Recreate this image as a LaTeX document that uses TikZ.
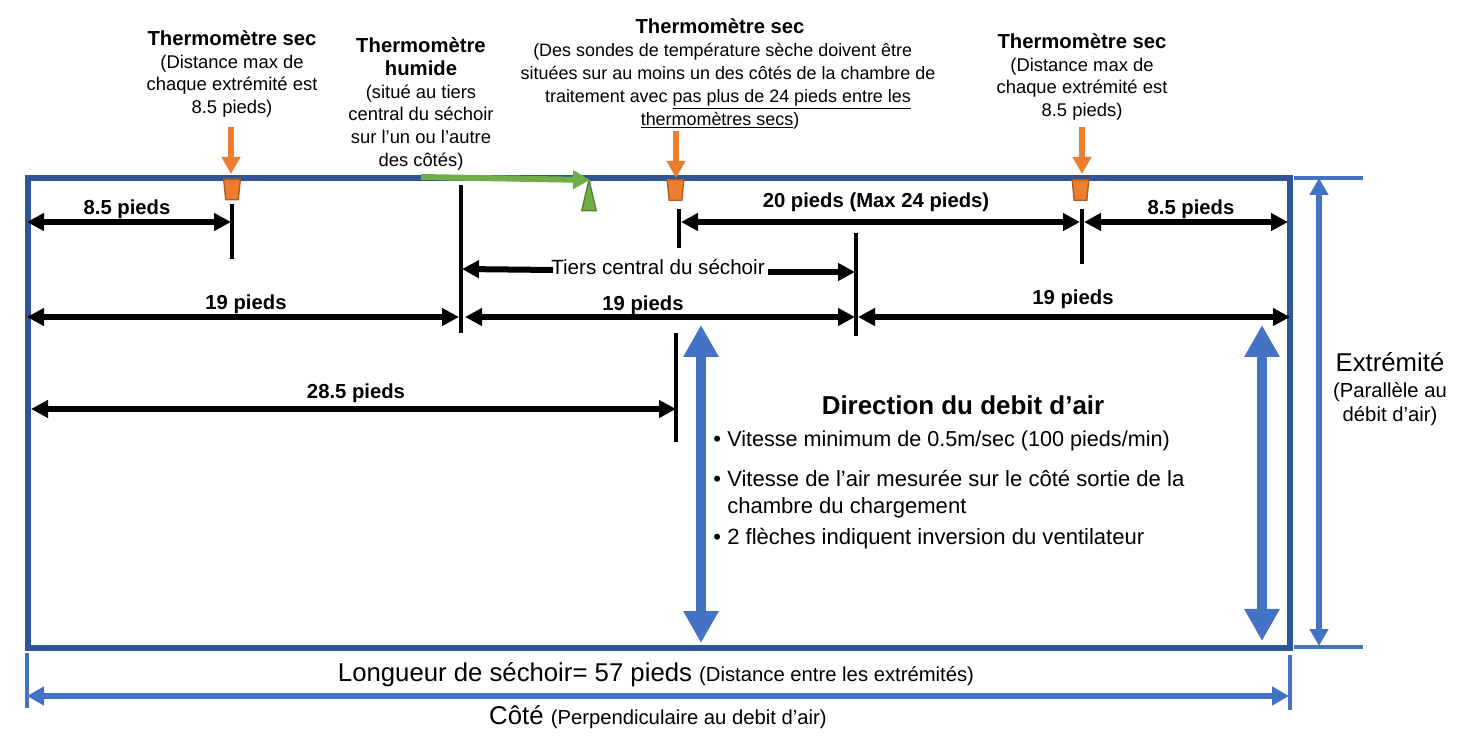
\documentclass[tikz,border=0pt]{standalone}
\usepackage{fontspec}
\setmainfont{Liberation Sans}
\usetikzlibrary{arrows.meta,shapes.geometric}
\definecolor{frameblue}{HTML}{2F5597}
\definecolor{airblue}{HTML}{4472C4}
\definecolor{orangeth}{HTML}{ED7D31}
\definecolor{orangeedge}{HTML}{AE5A21}
\definecolor{greenth}{HTML}{70AD47}
\definecolor{greenedge}{HTML}{548235}
\newcommand{\headfont}{\fontsize{15.2}{17.2}\selectfont}
\newcommand{\notefont}{\fontsize{13.8}{17.2}\selectfont}
\newcommand{\widefont}{\fontsize{13.45}{17.2}\selectfont}
\newcommand{\seed}{\phantom{\rule{1pt}{1pt}}}
\tikzset{
  x=0.75pt,y=-0.75pt,
  dim/.style={line width=4.5pt,black,{Triangle[length=12.75pt,width=12.75pt]}-{Triangle[length=12.75pt,width=12.75pt]}},
  dimr/.style={line width=4.5pt,black,-{Triangle[length=12.75pt,width=12.75pt]}},
  tick/.style={line width=3pt,black},
  pointer/.style={line width=4.5pt,orangeth,-{Triangle[length=12.75pt,width=13.5pt]}},
  hygro/.style={line width=4.5pt,greenth,-{Triangle[length=12.75pt,width=13.5pt]}},
  airflow/.style={line width=8pt,airblue,{Triangle[length=24pt,width=25pt]}-{Triangle[length=24pt,width=25pt]}},
  span/.style={line width=4.5pt,airblue,{Triangle[length=12.75pt,width=13.5pt]}-{Triangle[length=12.75pt,width=13.5pt]}},
  endline/.style={line width=3pt,airblue},
  dry/.style={trapezium,shape border rotate=180,trapezium angle=81,trapezium stretches=true,draw=orangeedge,fill=orangeth,line width=1pt,minimum width=12.5pt,minimum height=15.5pt,inner sep=0pt},
  wet/.style={isosceles triangle,isosceles triangle stretches=true,shape border rotate=90,draw=greenedge,fill=greenth,line width=1pt,minimum width=11pt,minimum height=23pt,inner sep=0pt},
  note/.style={align=center,font=\notefont,inner sep=0pt},
  dimlabel/.style={font=\headfont\bfseries,inner sep=0pt,yshift=-1.5pt},
  big/.style={font=\fontsize{19.3}{22}\selectfont,inner sep=0pt},
  bodytext/.style={align=left,anchor=west,font=\fontsize{16.55}{20.3}\selectfont,inner sep=0pt},
}
\begin{document}
\begin{tikzpicture}
\useasboundingbox (0,0) rectangle (1472,748);

% coordinates
\coordinate (t1a) at (232,204); \coordinate (t1b) at (232,259);
\coordinate (t2a) at (461,185); \coordinate (t2b) at (461,333);
\coordinate (t3a) at (679,209); \coordinate (t3b) at (679,248);
\coordinate (t4a) at (856,233); \coordinate (t4b) at (856,336);
\coordinate (t5a) at (1082,209); \coordinate (t5b) at (1082,264);
\coordinate (t6a) at (676,333); \coordinate (t6b) at (676,442);

% frame
\draw[frameblue,line width=4.5pt] (28,178) rectangle (1290,648);

% thermometers
\node[dry] (dry1) at (232,189.5) {\seed};
\node[dry] (dry2) at (675.5,190) {\seed};
\node[dry] (dry3) at (1080.5,190) {\seed};
\node[wet] (wet1) at (589,205) {\seed};

% pointers
\coordinate (p1) at (231,127); \coordinate (p1e) at (231,174);
\coordinate (p2) at (676,131); \coordinate (p2e) at (676,178);
\coordinate (p3) at (1082,127); \coordinate (p3e) at (1082,174);
\draw[pointer] (p1) -- (p1e);
\draw[pointer] (p2) -- (p2e);
\draw[pointer] (p3) -- (p3e);
\coordinate (g0) at (421,177); \coordinate (g1) at (590,180);
\draw[hygro] (g0) -- (g1);

% ticks
\draw[tick] (t1a) -- (t1b);
\draw[tick] (t2a) -- (t2b);
\draw[tick] (t3a) -- (t3b);
\draw[tick] (t4a) -- (t4b);
\draw[tick] (t5a) -- (t5b);
\draw[tick] (t6a) -- (t6b);

% dimension arrows
\coordinate (a1) at (27,222); \coordinate (a2) at (231,222);
\coordinate (a3) at (681,222); \coordinate (a4) at (1080,222);
\coordinate (a5) at (1084,222); \coordinate (a6) at (1288,222);
\coordinate (b1) at (27,317); \coordinate (b2) at (459,317);
\coordinate (b3) at (465,317); \coordinate (b4) at (855,317);
\coordinate (b5) at (858,317); \coordinate (b6) at (1290,317);
\coordinate (c1) at (31,409); \coordinate (c2) at (676,409);
\draw[dim] (a1) -- (a2);
\draw[dim] (a3) -- (a4);
\draw[dim] (a5) -- (a6);
\draw[dim] (b1) -- (b2);
\draw[dim] (b3) -- (b4);
\draw[dim] (b5) -- (b6);
\draw[dim] (c1) -- (c2);

% tiers central
\node[font=\fontsize{15.45}{17}\selectfont,inner sep=0pt] (tiers) at (658,267) {Tiers central du séchoir};
\coordinate (ti1) at (553,270); \coordinate (ti2) at (462,269);
\coordinate (ti3) at (768,272); \coordinate (ti4) at (855,272);
\draw[dimr] (ti1) -- (ti2);
\draw[dimr] (ti3) -- (ti4);

% airflow arrows
\coordinate (f1) at (701,325); \coordinate (f2) at (701,643);
\coordinate (f3) at (1262,325); \coordinate (f4) at (1262,641);
\draw[airflow] (f1) -- (f2);
\draw[airflow] (f3) -- (f4);

% end / side dimensions
\coordinate (e1) at (1294,178); \coordinate (e2) at (1363,178);
\coordinate (e3) at (1294,647); \coordinate (e4) at (1363,647);
\coordinate (e5) at (1319,178); \coordinate (e6) at (1319,646);
\draw[endline] (e1) -- (e2);
\draw[endline] (e3) -- (e4);
\draw[span] (e5) -- (e6);
\coordinate (s1) at (26.5,653); \coordinate (s2) at (26.5,708);
\coordinate (s3) at (1290,655); \coordinate (s4) at (1290,710);
\coordinate (s5) at (27,696); \coordinate (s6) at (1289,696);
\draw[endline] (s1) -- (s2);
\draw[endline] (s3) -- (s4);
\draw[span] (s5) -- (s6);

% thermometer notes
\node[note] (n1) at (232,74) {{\headfont\bfseries Thermomètre sec}\\(Distance max de\\chaque extrémité est\\8.5 pieds)};
\node[note] (n2) at (421,104) {{\headfont\bfseries Thermomètre}\\{\headfont\bfseries humide}\\(situé au tiers\\central du séchoir\\sur l’un ou l’autre\\des côtés)};
\node[note,font=\widefont] (n3) at (728,74) {\hspace*{-12pt}{\headfont\bfseries Thermomètre sec}\\\hspace*{-8pt}(Des sondes de température sèche doivent être\\situées sur au moins un des côtés de la chambre de\\traitement avec \underline{pas plus de 24 pieds entre les}\\\hspace*{-12pt}\underline{thermomètres secs})};
\node[note] (n4) at (1082,77) {{\headfont\bfseries Thermomètre sec}\\(Distance max de\\chaque extrémité est\\8.5 pieds)};

% dimension labels
\node[dimlabel] (l1) at (127,207) {8.5 pieds};
\node[dimlabel] (l2) at (876,200) {20 pieds (Max 24 pieds)};
\node[dimlabel] (l3) at (1191,207) {8.5 pieds};
\node[dimlabel] (l4) at (246,302) {19 pieds};
\node[dimlabel] (l5) at (643,303) {19 pieds};
\node[dimlabel] (l6) at (1073,297) {19 pieds};
\node[dimlabel] (l7) at (356,391) {28.5 pieds};

% direction block
\node[font=\fontsize{19.45}{22}\selectfont\bfseries,inner sep=0pt] (dir) at (963,405) {Direction du debit d’air};
\node[bodytext] (bu1) at (713,441) {•};
\node[bodytext,font=\fontsize{16.2}{20.3}\selectfont] (tx1) at (727,441) {Vitesse minimum de 0.5m/sec (100 pieds/min)};
\node[bodytext] (bu2) at (713,481) {•};
\node[bodytext,anchor=north west] (tx2) at (727,470) {Vitesse de l’air mesurée sur le côté sortie de la\\chambre du chargement};
\node[bodytext] (bu3) at (713,539) {•};
\node[bodytext] (tx3) at (727,539) {2 flèches indiquent inversion du ventilateur};

% side labels
\node[big] (ext) at (1390,362) {Extrémité};
\node[note,font=\fontsize{15.2}{18}\selectfont] (par) at (1390,404) {(Parallèle au\\débit d’air)};
\node[big] (lon) at (656,675) {Longueur de séchoir= 57 pieds {\fontsize{15.2}{17}\selectfont (Distance entre les extrémités)}};
\node[big] (cote) at (658,717) {Côté {\fontsize{15.2}{17}\selectfont (Perpendiculaire au debit d’air)}};
\end{tikzpicture}
\end{document}
